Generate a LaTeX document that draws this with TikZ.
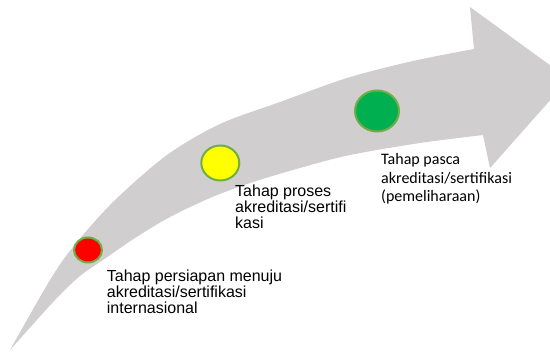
\documentclass[tikz,border=0pt]{standalone}
\usepackage{fontspec}
\setmainfont{Liberation Sans}
\newfontfamily\calib{Carlito}
\definecolor{arrowgray}{RGB}{208,206,206}
\definecolor{ringgreen}{RGB}{112,173,71}
\definecolor{dotred}{RGB}{255,0,0}
\definecolor{dotyellow}{RGB}{255,255,0}
\definecolor{dotgreen}{RGB}{0,176,80}
\tikzset{
  dot/.style={ellipse, draw=ringgreen, line width=2pt, inner sep=0pt},
  lbl/.style={anchor=north west, inner sep=0pt, align=left, font=\fontsize{16}{16}\selectfont},
  lblc/.style={anchor=north west, inner sep=0pt, align=left, font=\calib\fontsize{16}{18.5}\selectfont}
}
\usetikzlibrary{shapes.geometric}
\begin{document}
\begin{tikzpicture}[x=1pt,y=-1pt]
\useasboundingbox (0,0) rectangle (550,352);
\clip (0,0) rectangle (550,352);
\fill[arrowgray]
  plot[smooth,tension=0.5] coordinates {(10,350) (50,280) (73,247) (113,202) (167,155) (220,124) (280,102) (347,78) (413,61) (474,49)}
  -- (470,7) -- (569,79) -- (490,168) -- (483,135)
  -- plot[smooth,tension=0.5] coordinates {(483,135) (420,143) (350,155) (300,168) (250,183) (210,198) (170,217) (135,238) (103,260) (80,276) (55,300) (10,350)}
  -- cycle;
\node[dot, fill=dotred, minimum width=28pt, minimum height=25pt] (red) at (88,250) {};
\node[dot, fill=dotyellow, minimum width=38pt, minimum height=35pt] (yellow) at (220.3,163) {};
\node[dot, fill=dotgreen, minimum width=44pt, minimum height=41pt] (green) at (377,111) {};
\node[lbl] (t1) at (106.7,269.5) {Tahap persiapan menuju\\akreditasi/sertifikasi\\internasional};
\node[lbl] (t2) at (235,184.5) {Tahap proses\\akreditasi/sertifi\\kasi};
\node[lblc] (t3) at (381,153.5) {Tahap pasca\\akreditasi/sertifikasi\\(pemeliharaan)};
\end{tikzpicture}
\end{document}
